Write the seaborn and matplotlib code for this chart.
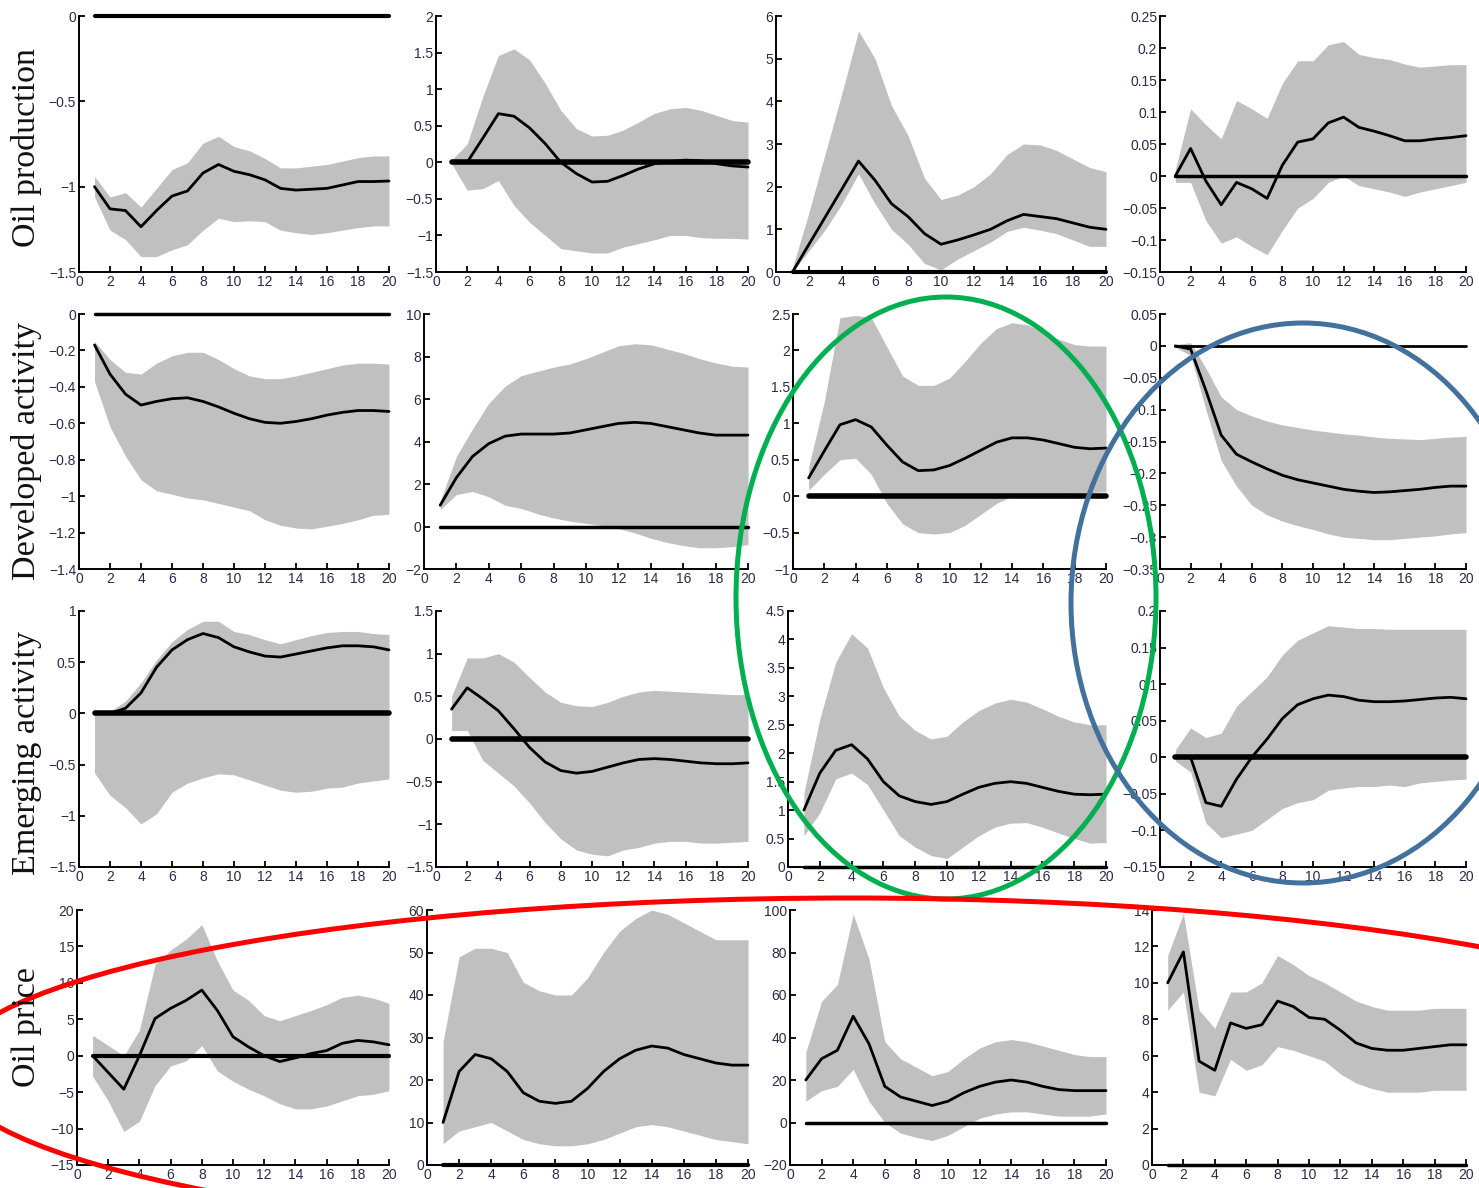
import numpy as np
import pandas as pd
import matplotlib
matplotlib.use("Agg")
import matplotlib.pyplot as plt
import seaborn as sns
from matplotlib.patches import Ellipse
from matplotlib.ticker import FuncFormatter

# ---------------- data ----------------
horizon = list(range(1, 21))
row_labels = ["Oil production", "Developed activity", "Emerging activity", "Oil price"]
xticks = [0, 2, 4, 6, 8, 10, 12, 14, 16, 18, 20]

# row 1: Oil production
r1c1_med = [-1.00, -1.13, -1.14, -1.235, -1.14, -1.055, -1.025, -0.92, -0.87, -0.91, -0.93, -0.96, -1.01, -1.02, -1.015, -1.01, -0.99, -0.97, -0.97, -0.967]
r1c1_lo = [-1.06, -1.255, -1.31, -1.41, -1.41, -1.37, -1.34, -1.255, -1.185, -1.205, -1.20, -1.205, -1.255, -1.27, -1.28, -1.27, -1.255, -1.24, -1.23, -1.23]
r1c1_hi = [-0.94, -1.06, -1.035, -1.12, -1.01, -0.90, -0.86, -0.745, -0.705, -0.765, -0.79, -0.835, -0.89, -0.89, -0.88, -0.87, -0.85, -0.83, -0.82, -0.82]

r1c2_med = [0.0, 0.0, 0.33, 0.665, 0.63, 0.47, 0.255, 0.0, -0.155, -0.27, -0.26, -0.18, -0.09, -0.02, 0.01, 0.03, 0.02, -0.02, -0.05, -0.065]
r1c2_lo = [-0.02, -0.38, -0.36, -0.25, -0.59, -0.82, -1.0, -1.18, -1.21, -1.24, -1.24, -1.16, -1.11, -1.06, -1.0, -1.0, -1.03, -1.04, -1.04, -1.05]
r1c2_hi = [0.03, 0.25, 0.9, 1.46, 1.55, 1.4, 1.08, 0.71, 0.46, 0.36, 0.37, 0.44, 0.55, 0.67, 0.73, 0.75, 0.71, 0.64, 0.57, 0.55]

r1c3_med = [0.0, 0.65, 1.3, 1.95, 2.6, 2.15, 1.6, 1.3, 0.9, 0.65, 0.75, 0.87, 1.0, 1.2, 1.35, 1.3, 1.25, 1.15, 1.05, 1.0]
r1c3_lo = [0.0, 0.5, 1.0, 1.6, 2.3, 1.6, 1.0, 0.65, 0.2, 0.05, 0.3, 0.5, 0.7, 0.95, 1.05, 0.98, 0.9, 0.75, 0.6, 0.6]
r1c3_hi = [0.1, 1.4, 2.8, 4.2, 5.65, 5.0, 3.9, 3.2, 2.2, 1.7, 1.8, 2.0, 2.3, 2.75, 3.0, 2.98, 2.85, 2.65, 2.45, 2.35]

r1c4_med = [0.0, 0.043, -0.008, -0.045, -0.01, -0.02, -0.035, 0.017, 0.053, 0.058, 0.083, 0.092, 0.076, 0.07, 0.063, 0.055, 0.055, 0.058, 0.06, 0.063]
r1c4_lo = [-0.01, -0.01, -0.07, -0.105, -0.095, -0.11, -0.123, -0.085, -0.05, -0.035, -0.01, 0.0, -0.015, -0.02, -0.025, -0.032, -0.025, -0.02, -0.015, -0.01]
r1c4_hi = [0.01, 0.105, 0.08, 0.058, 0.118, 0.105, 0.09, 0.145, 0.18, 0.18, 0.205, 0.21, 0.19, 0.185, 0.182, 0.175, 0.17, 0.172, 0.174, 0.174]

# row 2: Developed activity
r2c1_med = [-0.17, -0.33, -0.44, -0.5, -0.48, -0.465, -0.46, -0.48, -0.51, -0.545, -0.575, -0.595, -0.6, -0.59, -0.575, -0.555, -0.54, -0.53, -0.53, -0.535]
r2c1_lo = [-0.37, -0.62, -0.78, -0.91, -0.97, -0.99, -1.01, -1.02, -1.04, -1.06, -1.08, -1.13, -1.16, -1.175, -1.18, -1.165, -1.15, -1.13, -1.105, -1.1]
r2c1_hi = [-0.15, -0.25, -0.32, -0.33, -0.27, -0.23, -0.21, -0.21, -0.25, -0.3, -0.34, -0.355, -0.355, -0.34, -0.32, -0.3, -0.28, -0.27, -0.27, -0.275]

r2c2_med = [1.0, 2.3, 3.3, 3.9, 4.25, 4.35, 4.35, 4.35, 4.4, 4.55, 4.7, 4.85, 4.9, 4.85, 4.7, 4.55, 4.4, 4.3, 4.3, 4.3]
r2c2_lo = [0.8, 1.5, 1.65, 1.4, 1.0, 0.85, 0.6, 0.4, 0.25, 0.15, 0.05, -0.1, -0.3, -0.55, -0.75, -0.9, -1.0, -1.0, -0.95, -0.85]
r2c2_hi = [1.2, 3.3, 4.6, 5.8, 6.6, 7.1, 7.3, 7.5, 7.65, 7.9, 8.2, 8.5, 8.6, 8.55, 8.35, 8.15, 7.9, 7.7, 7.55, 7.5]

r2c3_med = [0.25, 0.62, 0.98, 1.05, 0.95, 0.7, 0.47, 0.35, 0.36, 0.42, 0.52, 0.63, 0.74, 0.8, 0.8, 0.77, 0.72, 0.67, 0.65, 0.66]
r2c3_lo = [0.08, 0.3, 0.5, 0.52, 0.3, -0.1, -0.38, -0.5, -0.52, -0.5, -0.4, -0.25, -0.1, 0.0, 0.02, 0.02, 0.03, 0.04, 0.05, 0.06]
r2c3_hi = [0.4, 1.3, 2.45, 2.48, 2.45, 2.05, 1.65, 1.52, 1.52, 1.62, 1.85, 2.1, 2.3, 2.38, 2.35, 2.25, 2.15, 2.08, 2.06, 2.06]

r2c4_med = [0.0, -0.005, -0.07, -0.14, -0.17, -0.182, -0.193, -0.203, -0.21, -0.215, -0.22, -0.225, -0.228, -0.23, -0.229, -0.227, -0.225, -0.222, -0.22, -0.22]
r2c4_lo = [-0.002, -0.015, -0.1, -0.18, -0.22, -0.25, -0.265, -0.275, -0.282, -0.288, -0.295, -0.3, -0.302, -0.304, -0.304, -0.302, -0.3, -0.298, -0.295, -0.293]
r2c4_hi = [0.002, 0.005, -0.035, -0.08, -0.1, -0.11, -0.118, -0.124, -0.128, -0.132, -0.135, -0.138, -0.14, -0.143, -0.145, -0.146, -0.147, -0.145, -0.143, -0.142]

# row 3: Emerging activity
r3c1_med = [0.0, 0.0, 0.05, 0.2, 0.45, 0.62, 0.72, 0.78, 0.74, 0.65, 0.6, 0.56, 0.55, 0.58, 0.61, 0.64, 0.66, 0.66, 0.65, 0.62]
r3c1_lo = [-0.58, -0.8, -0.92, -1.08, -0.98, -0.77, -0.68, -0.63, -0.59, -0.6, -0.65, -0.7, -0.75, -0.77, -0.76, -0.73, -0.72, -0.68, -0.66, -0.64]
r3c1_hi = [0.0, 0.02, 0.12, 0.3, 0.52, 0.7, 0.82, 0.9, 0.9, 0.8, 0.77, 0.72, 0.68, 0.72, 0.76, 0.79, 0.8, 0.8, 0.78, 0.77]

r3c2_med = [0.35, 0.6, 0.47, 0.33, 0.12, -0.1, -0.27, -0.37, -0.4, -0.38, -0.33, -0.28, -0.24, -0.23, -0.24, -0.26, -0.28, -0.29, -0.29, -0.28]
r3c2_lo = [0.1, 0.1, -0.25, -0.4, -0.55, -0.75, -0.98, -1.17, -1.3, -1.35, -1.37, -1.3, -1.27, -1.22, -1.2, -1.2, -1.22, -1.22, -1.21, -1.2]
r3c2_hi = [0.5, 0.95, 0.95, 1.0, 0.9, 0.72, 0.55, 0.43, 0.39, 0.38, 0.43, 0.5, 0.55, 0.57, 0.56, 0.55, 0.54, 0.53, 0.52, 0.52]

r3c3_med = [1.0, 1.65, 2.05, 2.15, 1.9, 1.5, 1.25, 1.15, 1.1, 1.15, 1.28, 1.4, 1.47, 1.5, 1.47, 1.4, 1.33, 1.28, 1.27, 1.28]
r3c3_lo = [0.55, 0.95, 1.55, 1.65, 1.45, 1.0, 0.55, 0.35, 0.2, 0.15, 0.35, 0.55, 0.7, 0.77, 0.78, 0.7, 0.6, 0.5, 0.42, 0.43]
r3c3_hi = [1.3, 2.6, 3.6, 4.1, 3.85, 3.15, 2.65, 2.4, 2.25, 2.3, 2.55, 2.75, 2.88, 2.95, 2.9, 2.78, 2.65, 2.55, 2.5, 2.5]

r3c4_med = [0.0, 0.0, -0.062, -0.067, -0.03, 0.0, 0.025, 0.053, 0.072, 0.08, 0.085, 0.083, 0.078, 0.076, 0.076, 0.077, 0.079, 0.081, 0.082, 0.08]
r3c4_lo = [-0.005, -0.02, -0.09, -0.11, -0.105, -0.1, -0.085, -0.07, -0.062, -0.058, -0.045, -0.042, -0.04, -0.04, -0.038, -0.04, -0.035, -0.033, -0.031, -0.03]
r3c4_hi = [0.01, 0.04, 0.027, 0.033, 0.07, 0.09, 0.11, 0.14, 0.16, 0.17, 0.18, 0.178, 0.176, 0.176, 0.175, 0.175, 0.175, 0.175, 0.175, 0.175]

# row 4: Oil price
r4c1_med = [0.0, -2.3, -4.6, 0.0, 5.1, 6.5, 7.6, 9.0, 6.2, 2.6, 1.2, 0.0, -0.8, -0.3, 0.3, 0.7, 1.7, 2.1, 1.9, 1.5]
r4c1_lo = [-2.8, -6.2, -10.4, -9.0, -4.1, -1.4, -0.7, 1.4, -2.1, -3.5, -4.6, -5.5, -6.6, -7.3, -7.3, -6.9, -6.2, -5.5, -5.3, -4.8]
r4c1_hi = [2.8, 1.4, 0.0, 3.5, 12.5, 14.5, 16.0, 18.0, 13.0, 9.0, 7.6, 5.5, 4.8, 5.5, 6.2, 7.0, 8.0, 8.3, 7.9, 7.2]

r4c2_med = [10, 22, 26, 25, 22, 17, 15, 14.5, 15, 18, 22, 25, 27, 28, 27.5, 26, 25, 24, 23.5, 23.5]
r4c2_lo = [5, 8, 9, 10, 8, 6, 5, 4.5, 4.5, 5, 6, 7.5, 9, 9.5, 9, 8, 7, 6, 5.5, 5]
r4c2_hi = [29, 49, 51, 51, 50, 43, 41, 40, 40, 44, 50, 55, 58, 60, 59, 57, 55, 53, 53, 53]

r4c3_med = [20, 30, 34, 50, 37, 17, 12, 10, 8, 10, 14, 17, 19, 20, 19, 17, 15.5, 15, 15, 15]
r4c3_lo = [10, 15, 17, 25, 10, 0, -5, -7, -8.5, -6, -2, 2, 4, 5, 5, 4, 3, 3, 3, 4]
r4c3_hi = [33, 57, 65, 98, 77, 38, 30, 26, 22, 24, 30, 35, 38, 39, 38, 36, 34, 32, 31, 31]

r4c4_med = [10.0, 11.7, 5.7, 5.2, 7.8, 7.5, 7.7, 9.0, 8.7, 8.1, 8.0, 7.4, 6.7, 6.4, 6.3, 6.3, 6.4, 6.5, 6.6, 6.6]
r4c4_lo = [8.5, 9.5, 4.0, 3.8, 5.8, 5.2, 5.5, 6.5, 6.3, 6.0, 5.7, 5.0, 4.5, 4.2, 4.0, 4.0, 4.0, 4.1, 4.1, 4.1]
r4c4_hi = [11.5, 13.8, 8.5, 7.5, 9.5, 9.5, 10.0, 11.5, 11.0, 10.4, 10.0, 9.5, 9.0, 8.7, 8.5, 8.5, 8.5, 8.6, 8.6, 8.6]

# y tick values per panel
yt_r1 = [[-1.5, -1, -0.5, 0], [-1.5, -1, -0.5, 0, 0.5, 1, 1.5, 2], [0, 1, 2, 3, 4, 5, 6],
         [-0.15, -0.1, -0.05, 0, 0.05, 0.1, 0.15, 0.2, 0.25]]
yt_r2 = [[-1.4, -1.2, -1, -0.8, -0.6, -0.4, -0.2, 0], [-2, 0, 2, 4, 6, 8, 10],
         [-1, -0.5, 0, 0.5, 1, 1.5, 2, 2.5], [-0.35, -0.3, -0.25, -0.2, -0.15, -0.1, -0.05, 0, 0.05]]
yt_r3 = [[-1.5, -1, -0.5, 0, 0.5, 1], [-1.5, -1, -0.5, 0, 0.5, 1, 1.5],
         [0, 0.5, 1, 1.5, 2, 2.5, 3, 3.5, 4, 4.5], [-0.15, -0.1, -0.05, 0, 0.05, 0.1, 0.15, 0.2]]
yt_r4 = [[-15, -10, -5, 0, 5, 10, 15, 20], [0, 10, 20, 30, 40, 50, 60],
         [-20, 0, 20, 40, 60, 80, 100], [0, 2, 4, 6, 8, 10, 12, 14]]

panels = [
    [(r1c1_med, r1c1_lo, r1c1_hi), (r1c2_med, r1c2_lo, r1c2_hi), (r1c3_med, r1c3_lo, r1c3_hi), (r1c4_med, r1c4_lo, r1c4_hi)],
    [(r2c1_med, r2c1_lo, r2c1_hi), (r2c2_med, r2c2_lo, r2c2_hi), (r2c3_med, r2c3_lo, r2c3_hi), (r2c4_med, r2c4_lo, r2c4_hi)],
    [(r3c1_med, r3c1_lo, r3c1_hi), (r3c2_med, r3c2_lo, r3c2_hi), (r3c3_med, r3c3_lo, r3c3_hi), (r3c4_med, r3c4_lo, r3c4_hi)],
    [(r4c1_med, r4c1_lo, r4c1_hi), (r4c2_med, r4c2_lo, r4c2_hi), (r4c3_med, r4c3_lo, r4c3_hi), (r4c4_med, r4c4_lo, r4c4_hi)],
]
yticks_all = [yt_r1, yt_r2, yt_r3, yt_r4]

# ---------------- layout (pixels) ----------------
W, H = 1479, 1188
lefts = [[79, 436, 776, 1160], [79, 424, 793, 1160], [79, 436, 788, 1160], [77, 427, 790, 1152]]
rights = [389, 748, 1106, 1466]
rows_tb = [(16, 272), (314, 569), (611, 867), (910, 1165)]
label_y = [148, 451, 753, 1027]
zero_lw = [[3.0, 4.0, 3.0, 2.5], [2.5, 2.5, 4.0, 2.0], [4.0, 4.0, 2.5, 4.0], [3.0, 3.0, 2.5, 2.5]]

sns.set_style("ticks")
plt.rcParams["font.family"] = ["Liberation Sans", "DejaVu Sans"]

fig = plt.figure(figsize=(W / 100, H / 100), dpi=100)
fmt = FuncFormatter(lambda v, p: f"{round(v, 6):g}".replace("-", "\u2212"))

for i in range(4):
    top, bot = rows_tb[i]
    for j in range(4):
        l, r = lefts[i][j], rights[j]
        ax = fig.add_axes([l / W, 1 - bot / H, (r - l) / W, (bot - top) / H])
        med, lo, hi = panels[i][j]
        df = pd.DataFrame({"h": horizon, "med": med, "lo": lo, "hi": hi, "zero": [0.0] * len(horizon)})
        ax.fill_between(df["h"], df["lo"], df["hi"], color="#c0c0c0", lw=0, zorder=1)
        sns.lineplot(data=df, x="h", y="zero", ax=ax, color="black", lw=zero_lw[i][j], zorder=2)
        sns.lineplot(data=df, x="h", y="med", ax=ax, color="black", lw=2.0, zorder=3)
        for ln in ax.lines:
            ln.set_clip_on(False)
        yt = yticks_all[i][j]
        ax.set_xlim(0, 20)
        ax.set_ylim(yt[0], yt[-1])
        ax.set_xticks(xticks)
        ax.set_yticks(yt)
        ax.yaxis.set_major_formatter(fmt)
        ax.xaxis.set_major_formatter(fmt)
        ax.set_xlabel("")
        ax.set_ylabel("")
        for s in ["top", "right"]:
            ax.spines[s].set_visible(False)
        for s in ["left", "bottom"]:
            ax.spines[s].set_linewidth(1.4)
            ax.spines[s].set_color("black")
        ax.tick_params(direction="in", length=4, width=1.3, labelsize=10, colors="black",
                       labelcolor="#2a2a4a", pad=2)
        ax.patch.set_alpha(0)
    fig.text(27 / W, 1 - label_y[i] / H, row_labels[i], rotation=90, ha="center", va="center",
             fontsize=24.5, family=["Liberation Serif", "DejaVu Serif"], color="#111111")

# ---------------- hand-drawn highlight ellipses ----------------
ov = fig.add_axes([0, 0, 1, 1])
ov.set_xlim(0, W)
ov.set_ylim(H, 0)
ov.axis("off")
ov.patch.set_alpha(0)
ov.add_patch(Ellipse((946, 598), 420, 602, fill=False, ec="#00b050", lw=3.6, clip_on=False))
ov.add_patch(Ellipse((1303, 603), 464, 560, fill=False, ec="#41719c", lw=3.6, clip_on=False))
ov.add_patch(Ellipse((850, 1070), 1804, 344, fill=False, ec="#ff0000", lw=3.6, clip_on=False))

fig.savefig("out.png", dpi=100)
